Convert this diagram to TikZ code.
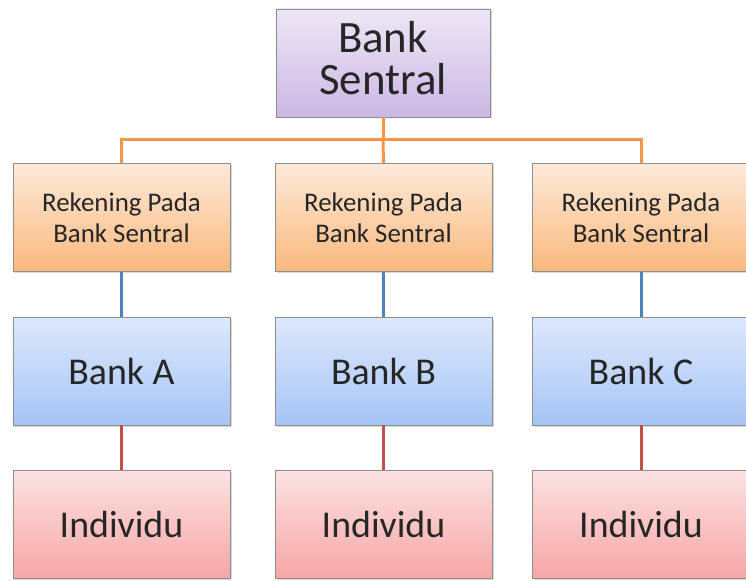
\documentclass[tikz,border=0pt]{standalone}
\usepackage{fontspec}
\setmainfont{Carlito}
\usetikzlibrary{shadows}
\definecolor{frame}{HTML}{8E8E8E}
\definecolor{lineorange}{HTML}{F79646}
\definecolor{lineblue}{HTML}{4F81BD}
\definecolor{linered}{HTML}{C0504D}
\begin{document}
\begin{tikzpicture}[x=1bp,y=-1bp,
  box/.style={draw=frame, line width=0.8bp, minimum width=217bp, minimum height=108bp,
    inner sep=0pt, align=center, text=black!85,
    drop shadow={shadow xshift=1.5bp, shadow yshift=-1.5bp, opacity=0.3}},
  central/.style={box, minimum width=214bp,
    top color={rgb,255:red,238;green,230;blue,246}, bottom color={rgb,255:red,202;green,184;blue,228},
    font=\fontsize{45}{43}\selectfont, text depth=10bp},
  account/.style={box, top color={rgb,255:red,253;green,234;blue,218}, bottom color={rgb,255:red,250;green,184;blue,125},
    font=\fontsize{27}{31}\selectfont},
  bank/.style={box, top color={rgb,255:red,221;green,232;blue,252}, bottom color={rgb,255:red,166;green,196;blue,246},
    font=\fontsize{38}{42}\selectfont},
  person/.style={box, top color={rgb,255:red,252;green,226;blue,226}, bottom color={rgb,255:red,246;green,166;blue,166},
    font=\fontsize{38}{42}\selectfont},
  link/.style={line width=3bp}
]
\useasboundingbox (0,0) rectangle (746,581);

% central bank on top
\node[central] (cb) at (383,63) {Bank\\Sentral};
\coordinate (hub) at (383,140);

% accounts held at the central bank
\node[account] (accA) at (121.5,217.5) {Rekening Pada\\Bank Sentral};
\node[account] (accB) at (383.5,217.5) {Rekening Pada\\Bank Sentral};
\node[account] (accC) at (641,217.5) {Rekening Pada\\Bank Sentral};

% commercial banks
\node[bank] (bankA) at (121.5,371) {Bank A};
\node[bank] (bankB) at (383.5,371) {Bank B};
\node[bank] (bankC) at (641,371) {Bank C};

% individuals
\node[person] (indA) at (121.5,524) {Individu};
\node[person] (indB) at (383.5,524) {Individu};
\node[person] (indC) at (641,524) {Individu};

% connectors
\draw[link, lineorange] (cb.south) -- (hub);
\draw[link, lineorange] (accA.north) |- (hub) -| (accC.north);
\draw[link, lineorange] (hub) -- (accB.north);
\draw[link, lineblue] (accA.south) -- (bankA.north);
\draw[link, lineblue] (accB.south) -- (bankB.north);
\draw[link, lineblue] (accC.south) -- (bankC.north);
\draw[link, linered] (bankA.south) -- (indA.north);
\draw[link, linered] (bankB.south) -- (indB.north);
\draw[link, linered] (bankC.south) -- (indC.north);
\end{tikzpicture}
\end{document}
